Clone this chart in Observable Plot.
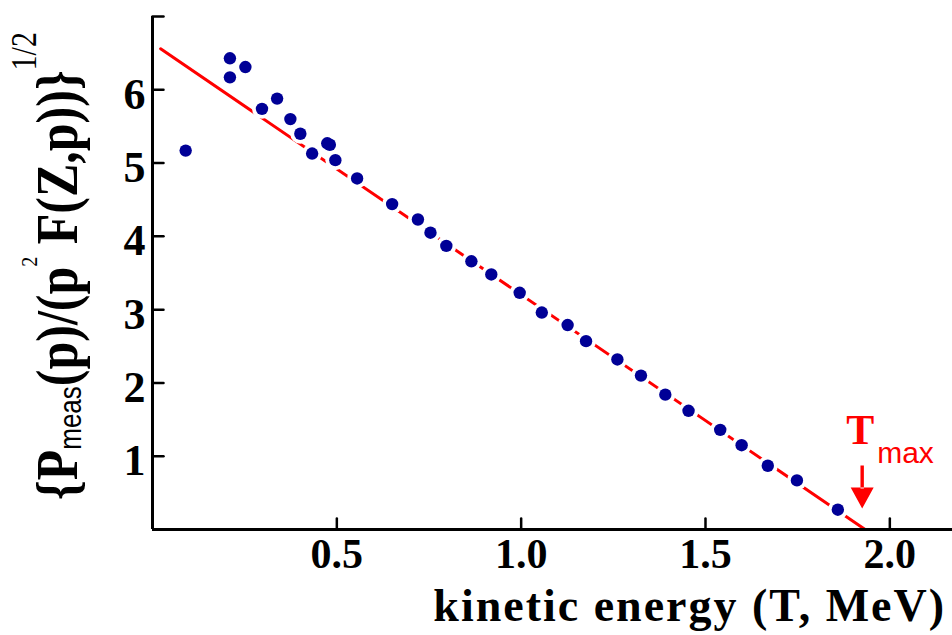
<!DOCTYPE html>
<html><head><meta charset="utf-8">
<script src="https://cdn.jsdelivr.net/npm/d3@7"></script>
<script src="https://cdn.jsdelivr.net/npm/@observablehq/plot@0.6"></script>
<style>body{margin:0;background:#fff}</style>
</head><body><div id="chart"></div>
<script>
// Measured points (kinetic energy T in MeV, Kurie value)
const energy = [0.090, 0.210, 0.210, 0.252, 0.297, 0.338, 0.374, 0.401, 0.433, 0.474, 0.481, 0.496, 0.555, 0.650, 0.720, 0.754, 0.797, 0.865, 0.919, 0.996, 1.056, 1.126, 1.176, 1.261, 1.325, 1.391, 1.454, 1.540, 1.598, 1.669, 1.748, 1.859];
const kurie  = [5.17, 6.43, 6.17, 6.31, 5.74, 5.88, 5.60, 5.40, 5.13, 5.27, 5.25, 5.04, 4.79, 4.44, 4.23, 4.05, 3.87, 3.66, 3.48, 3.23, 2.96, 2.79, 2.57, 2.32, 2.10, 1.84, 1.62, 1.36, 1.15, 0.87, 0.67, 0.27];
// Straight-line fit endpoints
const fitT = [0.022, 1.933];
const fitK = [6.56, 0.00];
// Ticks
const xTicks = [0.5, 1.0, 1.5, 2.0];
const yTickMarks = [1, 2, 3, 4, 5, 6, 7];
const yTickLabels = [1, 2, 3, 4, 5, 6];
const tmax = 1.925;

const points = energy.map((t, i) => ({t, k: kurie[i]}));
const fit = fitT.map((t, i) => ({t, k: fitK[i]}));

const serif = "'Liberation Serif', 'DejaVu Serif', serif";
const navy = "#000096";
const red = "#ff0000";

const tickShape = {draw(c, l) { c.moveTo(0, 0); c.lineTo(0, -l); }};
const arrowShape = {draw(c, l) {
  c.moveTo(0, 0); c.lineTo(-11.5, -21); c.lineTo(11.5, -21); c.closePath();
  c.moveTo(-1.7, -20); c.lineTo(1.7, -20); c.lineTo(1.7, -l); c.lineTo(-1.7, -l); c.closePath();
}};

const plot = Plot.plot({
  width: 952, height: 635,
  marginLeft: 152, marginRight: 0, marginTop: 16, marginBottom: 106,
  style: {fontFamily: serif, background: "#fff", color: "#000"},
  x: {domain: [0, 2.17]},
  y: {domain: [0, 7]},
  marks: [
    Plot.line(fit, {x: "t", y: "k", stroke: red, strokeWidth: 3}),
    Plot.dot(points, {x: "t", y: "k", r: 10, fill: "#fff"}),
    Plot.dot(points, {x: "t", y: "k", r: 6.2, fill: navy}),
    Plot.ruleX([0], {stroke: "#000", strokeWidth: 3}),
    Plot.ruleY([0], {stroke: "#000", strokeWidth: 3}),
    Plot.vector(xTicks, {x: d => d, y: 0, length: 11, rotate: 0, anchor: "start", shape: tickShape, stroke: "#000", strokeWidth: 2.5}),
    Plot.vector(yTickMarks, {x: 0, y: d => d, length: 11, rotate: 90, anchor: "start", shape: tickShape, stroke: "#000", strokeWidth: 2.5}),
    Plot.axisX(xTicks, {tickSize: 0, tickPadding: 9, tickFormat: d3.format(".1f"), fontSize: 42, fontWeight: "bold", letterSpacing: 3, label: null}),
    Plot.axisY(yTickLabels, {tickSize: 0, tickPadding: 7, dy: 5, tickFormat: d3.format("d"), fontSize: 44, fontWeight: "bold", label: null}),
    Plot.vector([tmax], {x: d => d, y: 0, dy: -21, length: 43, rotate: 0, anchor: "start", shape: arrowShape, fill: red, stroke: "none"}),
    Plot.text(["T"], {x: tmax, y: 0, dx: -2, dy: -86, lineAnchor: "bottom", textAnchor: "middle", fill: red, fontSize: 42, fontWeight: "bold"}),
    Plot.text(["max"], {x: tmax, y: 0, dx: 15, dy: -67, lineAnchor: "bottom", textAnchor: "start", fill: red, fontSize: 30, fontFamily: "'Liberation Sans', sans-serif"})
  ]
});

const svg = d3.select(plot);
// x-axis title
svg.append("text")
  .attr("x", 946).attr("y", 621)
  .attr("text-anchor", "end")
  .attr("font-family", serif).attr("font-weight", "bold").attr("font-size", 46)
  .attr("letter-spacing", 2)
  .attr("fill", "#000")
  .text("kinetic energy (T, MeV)");
// y-axis title
const yl = svg.append("text")
  .attr("transform", "translate(77,500) rotate(-90) scale(1,1.2)")
  .attr("text-anchor", "start")
  .attr("font-family", serif).attr("font-weight", "bold").attr("font-size", 50)
  .attr("fill", "#000");
yl.append("tspan").text("{P");
yl.append("tspan").attr("font-size", 26).attr("font-weight", "normal").attr("font-family", "'Liberation Sans', sans-serif").attr("dy", 3).text("meas");
yl.append("tspan").attr("dy", -3).text("(p)/(p");
yl.append("tspan").attr("font-size", 20).attr("font-weight", "normal").attr("dy", -33).text("2");
yl.append("tspan").attr("dy", 33).text(" F(Z,p))}");
yl.append("tspan").attr("font-size", 30).attr("font-weight", "normal").attr("dy", -34).text("1/2");

document.getElementById("chart").appendChild(plot);
</script>
</body></html>
